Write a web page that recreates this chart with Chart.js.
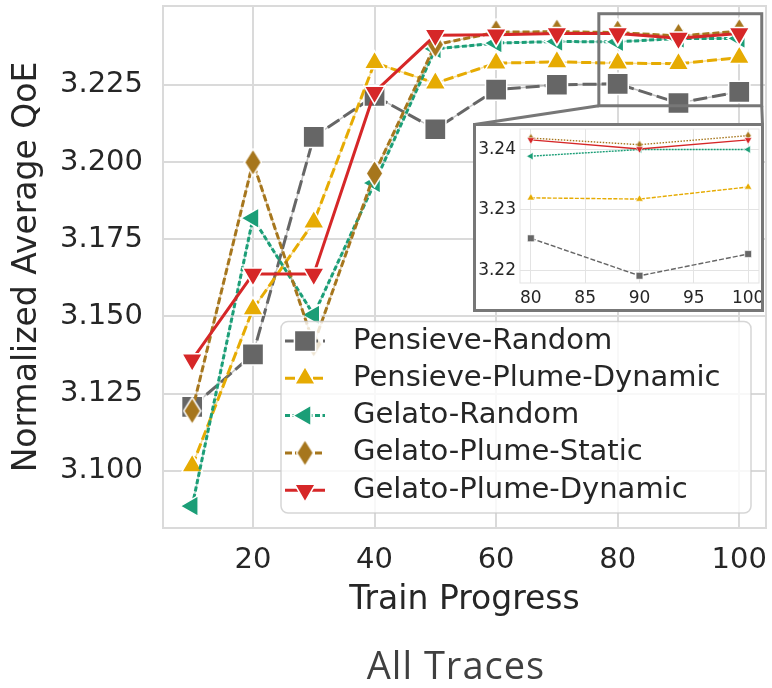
<!DOCTYPE html>
<html>
<head>
<meta charset="utf-8">
<script src="https://cdn.jsdelivr.net/npm/chart.js@4.4.1/dist/chart.umd.min.js"></script>
<style>
  html, body { margin: 0; padding: 0; background: #fff; }
  #wrap { position: relative; width: 772px; height: 688px; overflow: hidden; background: #fff; }
  #mainBox { position: absolute; left: 0; top: 0; width: 772px; height: 640px; }
  #insetBox { position: absolute; left: 473px; top: 123px; width: 291px; height: 189px; border: 3px solid #777; box-sizing: border-box; background: #fff; }
  #caption { position: absolute; left: 456px; top: 645px; transform: translateX(-50%); font-family: 'Open Sans', sans-serif; font-size: 38px; line-height: 1; letter-spacing: 1px; color: #404040; white-space: nowrap; }
</style>
</head>
<body>
<div id="wrap">
  <div id="mainBox"><canvas id="mainChart" width="772" height="640"></canvas></div>
  <div id="insetBox"><canvas id="insetChart" width="285" height="183"></canvas></div>
  <div id="caption">All Traces</div>
</div>
<script>
const $ = (id) => document.getElementById(id);

// values
const trainProgress = [10, 20, 30, 40, 50, 60, 70, 80, 90, 100];
const pensieveRandom = [3.1207, 3.1377, 3.2081, 3.2214, 3.2106, 3.2234, 3.2250, 3.2253, 3.2191, 3.2227];
const pensievePlumeDynamic = [3.1016, 3.1524, 3.1805, 3.2321, 3.2255, 3.2320, 3.2324, 3.2320, 3.2318, 3.2338];
const gelatoRandom = [3.0886, 3.1818, 3.1505, 3.1932, 3.2366, 3.2385, 3.2390, 3.2389, 3.2400, 3.2400];
const gelatoPlumeStatic = [3.1194, 3.1999, 3.1410, 3.1963, 3.2380, 3.2420, 3.2422, 3.2419, 3.2408, 3.2423];
const gelatoPlumeDynamic = [3.1360, 3.1637, 3.1637, 3.2226, 3.2410, 3.2412, 3.2416, 3.2416, 3.2401, 3.2416];
const seriesNames = ['Pensieve-Random', 'Pensieve-Plume-Dynamic', 'Gelato-Random', 'Gelato-Plume-Static', 'Gelato-Plume-Dynamic'];
const seriesValues = [pensieveRandom, pensievePlumeDynamic, gelatoRandom, gelatoPlumeStatic, gelatoPlumeDynamic];

const xTicks = [20, 40, 60, 80, 100];
const yTicks = [3.100, 3.125, 3.150, 3.175, 3.200, 3.225];
const insetXTicks = [80, 85, 90, 95, 100];
const insetYTicks = [3.22, 3.23, 3.24];

const FONT = "'DejaVu Sans', sans-serif";
const TEXT = '#262626';
const GRID = '#dadada';
Chart.defaults.font.family = FONT;

function diamond(w, h, fill, lw) {
  const c = document.createElement('canvas');
  c.width = w + 2;
  c.height = h + 2;
  const g = c.getContext('2d');
  g.beginPath();
  g.moveTo(c.width / 2, 1);
  g.lineTo(c.width - 1, c.height / 2);
  g.lineTo(c.width / 2, c.height - 1);
  g.lineTo(1, c.height / 2);
  g.closePath();
  g.fillStyle = fill;
  g.fill();
  g.strokeStyle = '#fff';
  g.lineWidth = lw;
  g.stroke();
  return c;
}

const styles = [
  { color: '#666666', dash: [14, 5], marker: 'rect', small: 'rect', rot: 0, r: 15, ir: 4.8, idash: [5, 2] },
  { color: '#e6ab02', dash: [10, 4], marker: 'triangle', small: 'triangle', rot: 0, r: 12, ir: 4.3, idash: [4, 1.5] },
  { color: '#1b9e77', dash: [5, 2.5], marker: 'triangle', small: 'triangle', rot: 270, r: 12, ir: 4.3, idash: [2, 1] },
  { color: '#a6761d', dash: [7, 3], marker: diamond(17, 27, '#a6761d', 1.5), small: diamond(6, 9, '#a6761d', 0.6), rot: 0, r: 13, ir: 4, idash: [1.5, 1.5] },
  { color: '#d62728', dash: [], marker: 'triangle', small: 'triangle', rot: 180, r: 12, ir: 4.3, idash: [] },
];

const points = (vals) => trainProgress.map((x, i) => ({ x, y: vals[i] }));
// the inset only shows the last part of training
const insetPoints = (vals) => points(vals).filter((p) => p.x >= insetXTicks[0]);

const mainSets = [];
const insetSets = [];
seriesValues.forEach((vals, k) => {
  const s = styles[k];
  if (s.dash.length) {
    mainSets.push({
      data: points(vals), showLine: true, borderColor: s.color + '66', borderWidth: 1.5,
      pointRadius: 0, order: 5 - k + 0.5,
    });
  }
  mainSets.push({
    label: seriesNames[k], data: points(vals), showLine: true,
    borderColor: s.color, backgroundColor: s.color, borderWidth: 3, borderDash: s.dash,
    pointStyle: s.marker, pointRadius: s.r, pointRotation: s.rot,
    pointBackgroundColor: s.color, pointBorderColor: '#fff', pointBorderWidth: 1.5,
    order: 5 - k,
  });
  insetSets.push({
    label: seriesNames[k], data: insetPoints(vals), showLine: true,
    borderColor: s.color, backgroundColor: s.color, borderWidth: 1.4, borderDash: s.idash,
    pointStyle: s.small, pointRadius: s.ir, pointRotation: s.rot,
    pointBackgroundColor: s.color, pointBorderColor: '#fff', pointBorderWidth: 0.6,
    order: 5 - k,
  });
});

const frame = (color, width) => ({
  id: 'frame',
  beforeDatasetsDraw(chart) {
    const { ctx, chartArea: a } = chart;
    ctx.save();
    ctx.strokeStyle = color;
    ctx.lineWidth = width;
    ctx.strokeRect(a.left, a.top, a.right - a.left, a.bottom - a.top);
    ctx.restore();
  },
});

// indicator of the zoomed region plus the two connector lines to the inset
const zoomRegion = { x0: 76.9, x1: 103.7, y0: 3.2182, y1: 3.248 };
const zoomMarks = {
  id: 'zoomMarks',
  afterDatasetsDraw(chart) {
    const { ctx, scales: { x, y } } = chart;
    const l = x.getPixelForValue(zoomRegion.x0), r = x.getPixelForValue(zoomRegion.x1);
    const b = y.getPixelForValue(zoomRegion.y0), t = y.getPixelForValue(zoomRegion.y1);
    ctx.save();
    ctx.strokeStyle = '#777';
    ctx.lineWidth = 3;
    ctx.strokeRect(l, t, r - l, b - t);
    ctx.beginPath();
    ctx.moveTo(l, b); ctx.lineTo(474.5, 124.5);
    ctx.moveTo(r, b); ctx.lineTo(762.5, 124.5);
    ctx.stroke();
    ctx.restore();
  },
};

const legendBox = {
  id: 'legendBox',
  afterDatasetsDraw(chart) {
    const ctx = chart.ctx;
    const L = { left: 281, top: 321.5, width: 470, height: 191.5, row0: 341, gap: 37.3, lx0: 285, lx1: 325, mx: 305, tx: 353 };
    ctx.save();
    ctx.beginPath();
    ctx.roundRect(L.left, L.top, L.width, L.height, 7);
    ctx.fillStyle = 'rgba(255,255,255,0.8)';
    ctx.fill();
    ctx.strokeStyle = 'rgba(204,204,204,0.8)';
    ctx.lineWidth = 1.5;
    ctx.stroke();
    seriesNames.forEach((name, k) => {
      const s = styles[k];
      const y = L.row0 + k * L.gap;
      ctx.setLineDash(s.dash);
      ctx.strokeStyle = s.color;
      ctx.lineWidth = 3;
      ctx.beginPath();
      ctx.moveTo(L.lx0, y);
      ctx.lineTo(L.lx1, y);
      ctx.stroke();
      ctx.setLineDash([]);
      ctx.fillStyle = s.color;
      ctx.strokeStyle = '#fff';
      ctx.lineWidth = 1.5;
      Chart.helpers.drawPoint(ctx, { pointStyle: s.marker, radius: s.r, rotation: s.rot, borderWidth: 1.5 }, L.mx, y);
      ctx.fillStyle = TEXT;
      ctx.font = `29px ${FONT}`;
      ctx.textBaseline = 'middle';
      ctx.textAlign = 'left';
      ctx.fillText(name, L.tx, y);
    });
    ctx.restore();
  },
};

const setTicks = (list) => (scale) => { scale.ticks = list.map((value) => ({ value })); };
const fitX = (h) => (s) => { s.height = h; s.paddingLeft = 0; s.paddingRight = 0; };
const fitY = (w) => (s) => { s.width = w; s.paddingTop = 0; s.paddingBottom = 0; };

new Chart($('mainChart'), {
  type: 'scatter',
  data: { datasets: mainSets },
  options: {
    responsive: false,
    animation: false,
    events: [],
    layout: { autoPadding: false, padding: { top: 6, right: 6, left: 0, bottom: 0 } },
    plugins: { legend: { display: false }, tooltip: { enabled: false } },
    scales: {
      x: {
        type: 'linear', min: 5.2, max: 104.4,
        afterBuildTicks: setTicks(xTicks),
        afterFit: fitX(112),
        ticks: { font: { size: 29 }, color: TEXT, padding: 15, maxRotation: 0 },
        grid: { color: GRID, lineWidth: 2, drawTicks: false },
        border: { display: false },
        title: { display: true, text: 'Train Progress', font: { size: 33 }, color: TEXT, padding: { top: 0, bottom: 20 } },
      },
      y: {
        type: 'linear', min: 3.0815, max: 3.2505,
        afterBuildTicks: setTicks(yTicks),
        afterFit: fitY(163),
        ticks: { font: { size: 29 }, color: TEXT, padding: 20, callback: (v) => v.toFixed(3) },
        grid: { color: GRID, lineWidth: 2, drawTicks: false },
        border: { display: false },
        title: { display: true, text: 'Normalized Average QoE', font: { size: 33 }, color: TEXT, padding: { top: 8, bottom: 0 } },
      },
    },
  },
  plugins: [frame(GRID, 2), zoomMarks, legendBox],
});

new Chart($('insetChart'), {
  type: 'scatter',
  data: { datasets: insetSets },
  options: {
    responsive: false,
    animation: false,
    events: [],
    layout: { autoPadding: false, padding: { top: 3, right: 2, left: 0, bottom: 0 } },
    plugins: { legend: { display: false }, tooltip: { enabled: false } },
    scales: {
      x: {
        type: 'linear', min: 79, max: 101,
        afterBuildTicks: setTicks(insetXTicks),
        afterFit: fitX(26),
        ticks: { font: { size: 17 }, color: TEXT, padding: 5, maxRotation: 0 },
        grid: { color: '#e3e3e3', lineWidth: 1, drawTicks: false },
        border: { display: false },
      },
      y: {
        type: 'linear', min: 3.2179, max: 3.2434,
        afterBuildTicks: setTicks(insetYTicks),
        afterFit: fitY(44),
        ticks: { font: { size: 17 }, color: TEXT, padding: 4, callback: (v) => v.toFixed(2) },
        grid: { color: '#e3e3e3', lineWidth: 1, drawTicks: false },
        border: { display: false },
      },
    },
  },
  plugins: [frame('#e3e3e3', 1)],
});
</script>
</body>
</html>
